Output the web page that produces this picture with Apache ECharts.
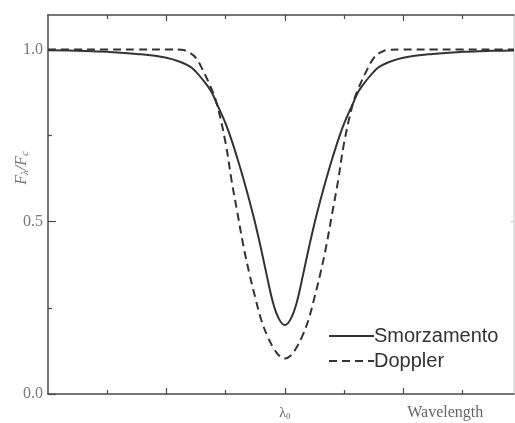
<!DOCTYPE html>
<html>
<head>
<meta charset="utf-8">
<script src="https://cdn.jsdelivr.net/npm/echarts@6/dist/echarts.min.js"></script>
<style>html,body{margin:0;padding:0;background:#fff}#c{width:515px;height:423px}</style>
</head>
<body>
<div id="c"></div>
<script>
// Wavelength offset from line centre (tick units; λ0 = 0)
var wavelength = [-4,-3.5,-3,-2.5,-2,-1.75,-1.6,-1.5,-1.4,-1.25,-1.15,-1,-0.9,-0.8,-0.7,-0.6,-0.5,-0.4,-0.3,-0.2,-0.1,0,0.1,0.2,0.3,0.4,0.5,0.6,0.7,0.8,0.9,1,1.15,1.25,1.4,1.5,1.6,1.75,2,2.5,3,3.5,3.87];
// F_lambda / F_c for damping (Smorzamento) profile
var smorzamento = [0.998,0.996,0.993,0.987,0.976,0.963,0.95,0.935,0.915,0.88,0.843,0.785,0.737,0.683,0.625,0.562,0.495,0.42,0.34,0.265,0.218,0.200,0.218,0.265,0.34,0.42,0.495,0.562,0.625,0.683,0.737,0.785,0.843,0.88,0.915,0.935,0.95,0.963,0.976,0.987,0.993,0.996,0.997];
// F_lambda / F_c for Doppler profile
var doppler = [1,1,1,1,1,0.999,0.99,0.975,0.945,0.89,0.843,0.728,0.62,0.525,0.43,0.35,0.28,0.216,0.17,0.136,0.112,0.103,0.112,0.136,0.17,0.216,0.28,0.35,0.43,0.525,0.62,0.728,0.843,0.89,0.945,0.975,0.99,0.999,1,1,1,1,1];
var seriesNames = ['Smorzamento','Doppler'];
var yTickLabels = [0, 0.5, 1.0];
var yMinorTicks = [0.25, 0.75];
var xMajorTicks = [-2, 0, 2];
var xMinorTicks = [-3, -1, 1, 3];
var xLabelValues = [0, 2];
var xTickLabels = {0: '{l|λ}{s|0}', 2: '{w|Wavelength}'};

var chart = echarts.init(document.getElementById('c'), null, {renderer: 'canvas'});
var axisColor = '#4a4a4a';
var serif = '"Liberation Serif", "DejaVu Serif", serif';
function pairs(ys){ return wavelength.map(function(x,i){ return [x, ys[i]]; }); }
function xAx(pos, ticks, len, showLine, labels){
  return {
    type: 'value', position: pos, min: -4, max: 3.87, interval: 1,
    axisLine: {show: showLine, onZero: false, lineStyle: {color: axisColor, width: 1.5}},
    axisTick: {show: true, inside: true, length: len, customValues: ticks, lineStyle: {color: axisColor, width: 1.2}},
    axisLabel: labels ? {show: true, customValues: xLabelValues, margin: 11, color: '#666',
      formatter: function(v){ return xTickLabels[v] || ''; },
      rich: {
        l: {fontFamily: serif, fontSize: 14, color: '#666'},
        s: {fontFamily: serif, fontSize: 9, color: '#666', padding: [7,0,0,0]},
        w: {fontFamily: serif, fontSize: 16, color: '#666', padding: [0,0,0,84]}
      }} : {show: false},
    splitLine: {show: false}
  };
}
function yAx(pos, ticks, len, showLine, labels, color){
  return {
    type: 'value', position: pos, min: 0, max: 1.1, interval: 0.5,
    axisLine: {show: showLine, onZero: false, lineStyle: {color: color || axisColor, width: 1.5}},
    axisTick: {show: true, inside: true, length: len, customValues: ticks, lineStyle: {color: color || axisColor, width: 1.2}},
    axisLabel: labels ? {show: true, customValues: yTickLabels, margin: 5, color: '#777', fontFamily: serif, fontSize: 16,
      formatter: function(v){ return v.toFixed(1); }} : {show: false},
    splitLine: {show: false}
  };
}
chart.setOption({
  animation: false,
  backgroundColor: '#fff',
  grid: {left: 48, right: 1, top: 15, bottom: 29, containLabel: false},
  xAxis: [
    xAx('bottom', xMajorTicks, 6, true, true),
    xAx('bottom', xMinorTicks, 4, false, false),
    xAx('top', xMajorTicks, 6, true, false),
    xAx('top', xMinorTicks, 4, false, false)
  ],
  yAxis: [
    yAx('left', yTickLabels, 8, true, true),
    yAx('left', yMinorTicks, 4, false, false),
    yAx('right', [0.5], 4, true, false, '#d8d8d8')
  ],
  legend: {
    orient: 'vertical', left: 323, top: 321, itemWidth: 45, itemHeight: 14, itemGap: 5,
    data: seriesNames,
    itemStyle: {opacity: 0},
    textStyle: {fontFamily: '"Liberation Sans", Arial, sans-serif', fontSize: 20, color: '#333', padding: [0,0,0,-5]}
  },
  graphic: [{
    type: 'text', x: 22, y: 168, rotation: Math.PI/2,
    style: {
      text: '{i|F}{s|λ}{i|/F}{s|c}', align: 'center', verticalAlign: 'middle', fill: '#777',
      rich: {
        i: {fontFamily: serif, fontStyle: 'italic', fontSize: 16, fill: '#777'},
        s: {fontFamily: serif, fontStyle: 'italic', fontSize: 11, fill: '#777', padding: [7,0,0,0]}
      }
    }
  }],
  series: [
    {name: seriesNames[0], type: 'line', data: pairs(smorzamento), smooth: 0.4, symbol: 'none',
     lineStyle: {color: '#333', width: 2}, itemStyle: {color: '#333'}},
    {name: seriesNames[1], type: 'line', data: pairs(doppler), smooth: 0.4, symbol: 'none',
     lineStyle: {color: '#333', width: 2, type: [8, 5]}, itemStyle: {color: '#333'}}
  ]
});
</script>
</body>
</html>
